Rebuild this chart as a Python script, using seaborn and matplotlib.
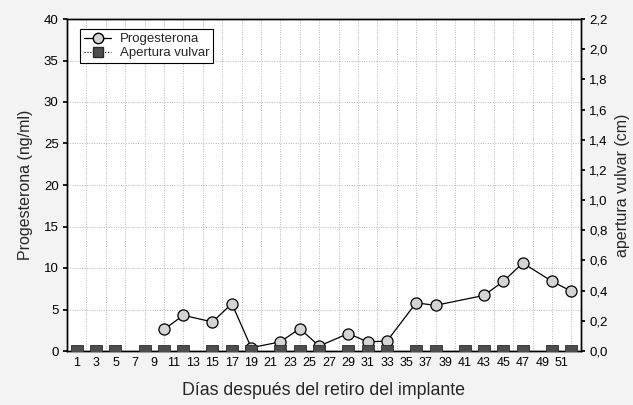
import matplotlib
matplotlib.use("Agg")
import matplotlib.pyplot as plt
import seaborn as sns
import pandas as pd
from matplotlib.lines import Line2D
from matplotlib.ticker import FixedLocator

sns.set_theme(style="white")
plt.rcParams['font.family'] = ['Liberation Sans', 'DejaVu Sans']

# Data
prog_days = [10, 12, 15, 17, 19, 22, 24, 26, 29, 31, 33, 36, 38, 43, 45, 47, 50, 52]
prog_vals = [2.6, 4.3, 3.5, 5.7, 0.4, 1.1, 2.7, 0.6, 2.1, 1.1, 1.2, 5.8, 5.5, 6.7, 8.4, 10.6, 8.4, 7.2]
apert_days = [1, 3, 5, 8, 10, 12, 15, 17, 19, 22, 24, 26, 29, 31, 33, 36, 38, 41, 43, 45, 47, 50, 52]
apert_vals = [0.0] * len(apert_days)
x_tick_labels = [str(d) for d in range(1, 52, 2)]
left_ticks = [0, 5, 10, 15, 20, 25, 30, 35, 40]
right_ticks = [0.0, 0.2, 0.4, 0.6, 0.8, 1.0, 1.2, 1.4, 1.6, 1.8, 2.0, 2.2]

df_p = pd.DataFrame({"dia": prog_days, "prog": prog_vals})
df_a = pd.DataFrame({"dia": apert_days, "ap": apert_vals})

fig = plt.figure(figsize=(6.33, 4.05), dpi=100, facecolor="#f3f3f3")
ax = fig.add_axes([67/633, 1-351/405, 514/633, 332/405])
ax.set_facecolor("white")

sns.lineplot(data=df_p, x="dia", y="prog", ax=ax, color="black", linewidth=0.9,
             marker="o", markersize=8, markerfacecolor="#d4d4d4",
             markeredgecolor="black", markeredgewidth=0.9, zorder=3)

ax2 = ax.twinx()
sns.lineplot(data=df_a, x="dia", y="ap", ax=ax2, color="black", linewidth=0.8,
             linestyle=":", marker="s", markersize=8, markerfacecolor="#4d4d4d",
             markeredgecolor="#2a2a2a", markeredgewidth=0.6, zorder=3)

ax.set_xlim(0, 53)
ax.set_ylim(0, 40)
ax2.set_ylim(0, 2.2)

ax.set_xticks(list(range(1, 52, 2)))
ax.set_xticklabels(x_tick_labels, fontsize=9)
ax.xaxis.set_minor_locator(FixedLocator(list(range(2, 53, 2))))
ax.set_yticks(left_ticks)
ax.set_yticklabels([str(v) for v in left_ticks], fontsize=9.5)
ax2.set_yticks(right_ticks)
ax2.set_yticklabels([f"{v:.1f}".replace(".", ",") for v in right_ticks], fontsize=9.5)

ax.grid(False)
ax2.grid(False)
ax.grid(axis="x", which="minor", color="#b8b8b8", linestyle=(0, (1, 1.5)), linewidth=0.7)
ax.grid(axis="y", which="major", color="#b8b8b8", linestyle=(0, (1, 1.5)), linewidth=0.7)

ax.tick_params(axis="x", which="major", length=0, pad=4, colors="black")
ax.tick_params(axis="x", which="minor", length=0)
ax.tick_params(axis="y", which="major", length=3, direction="out", pad=3, colors="black", left=True)
ax2.tick_params(axis="y", which="major", length=3, direction="out", pad=3, colors="black", right=True)

for a in (ax, ax2):
    for s in a.spines.values():
        s.set_color("black")
        s.set_linewidth(1.0)
        s.set_visible(True)

ax.set_xlabel("Días después del retiro del implante", fontsize=12.8, labelpad=10)
ax.set_ylabel("Progesterona (ng/ml)", fontsize=11.5, labelpad=8)
ax2.set_ylabel("")
fig.text(623/633, 1 - 185/405, "apertura vulvar (cm)", rotation=90,
         ha="center", va="center", fontsize=11.5)

handles = [
    Line2D([0], [0], color="black", linewidth=0.9, marker="o", markersize=7.5,
           markerfacecolor="#d4d4d4", markeredgecolor="black"),
    Line2D([0], [0], color="black", linewidth=0.8, linestyle=":", marker="s", markersize=7.5,
           markerfacecolor="#4d4d4d", markeredgecolor="#2a2a2a"),
]
leg = ax.legend(handles, ["Progesterona", "Apertura vulvar"], loc="upper left",
                bbox_to_anchor=(0.026, 0.97), fontsize=9.5, frameon=True, fancybox=False,
                framealpha=1, edgecolor="black", handlelength=2.0, borderpad=0.3,
                labelspacing=0.15, handletextpad=0.7, borderaxespad=0)
leg.get_frame().set_linewidth(0.8)
if ax2.get_legend():
    ax2.get_legend().remove()

fig.savefig("out.png", dpi=100, facecolor=fig.get_facecolor())
